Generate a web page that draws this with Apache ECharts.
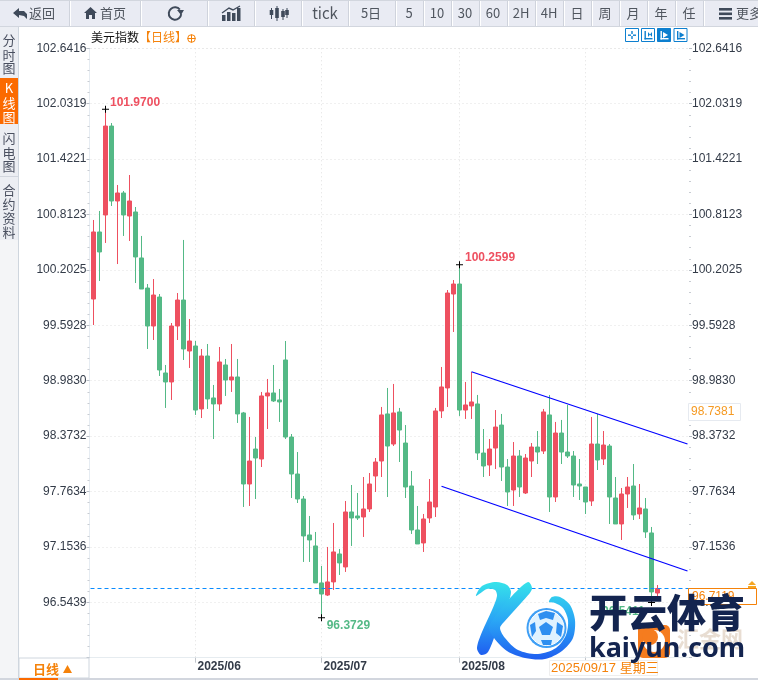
<!DOCTYPE html>
<html><head><meta charset="utf-8"><style>html,body{margin:0;padding:0;background:#fff}#c{width:758px;height:680px}</style>
<script src="https://cdn.jsdelivr.net/npm/echarts@6/dist/echarts.min.js"></script></head>
<body><div id="c"></div><script>
const dates=['2025/05/08','2025/05/09','2025/05/12','2025/05/13','2025/05/14','2025/05/15','2025/05/16','2025/05/19','2025/05/20','2025/05/21','2025/05/22','2025/05/23','2025/05/26','2025/05/27','2025/05/28','2025/05/29','2025/05/30',
'2025/06/02','2025/06/03','2025/06/04','2025/06/05','2025/06/06','2025/06/09','2025/06/10','2025/06/11','2025/06/12','2025/06/13','2025/06/16','2025/06/17','2025/06/18','2025/06/19','2025/06/20','2025/06/23','2025/06/24','2025/06/25','2025/06/26','2025/06/27','2025/06/30',
'2025/07/01','2025/07/02','2025/07/03','2025/07/04','2025/07/07','2025/07/08','2025/07/09','2025/07/10','2025/07/11','2025/07/14','2025/07/15','2025/07/16','2025/07/17','2025/07/18','2025/07/21','2025/07/22','2025/07/23','2025/07/24','2025/07/25','2025/07/28','2025/07/29','2025/07/30','2025/07/31',
'2025/08/01','2025/08/04','2025/08/05','2025/08/06','2025/08/07','2025/08/08','2025/08/11','2025/08/12','2025/08/13','2025/08/14','2025/08/15','2025/08/18','2025/08/19','2025/08/20','2025/08/21','2025/08/22','2025/08/25','2025/08/26','2025/08/27','2025/08/28','2025/08/29',
'2025/09/01','2025/09/02','2025/09/03','2025/09/04','2025/09/05','2025/09/08','2025/09/09','2025/09/10','2025/09/11','2025/09/12','2025/09/15','2025/09/16','2025/09/17'];
const blankSlots=['','','','',''];
const opens=[99.882,100.620,100.807,101.786,100.961,101.049,100.796,100.840,100.334,100.003,
99.585,99.904,99.068,98.969,99.585,99.871,99.310,99.365,98.672,99.255,
98.793,98.727,99.156,98.991,99.024,98.628,97.846,98.231,98.121,98.815,
98.848,98.771,99.211,98.363,97.956,97.681,97.285,97.164,96.757,96.624,
96.768,97.076,96.933,97.538,97.494,97.483,97.571,97.934,98.099,98.617,
98.286,98.639,98.297,97.824,97.340,97.197,97.472,97.593,98.650,98.903,
99.937,100.047,98.660,98.705,98.727,98.187,98.055,98.242,98.495,98.033,
97.780,98.154,97.747,98.099,98.253,98.209,98.606,97.703,98.407,98.198,
98.154,97.846,97.813,97.659,98.286,98.121,98.264,97.692,97.406,97.736,
97.824,97.516,97.571,97.307,96.646];
const closes=[100.620,100.400,101.786,100.961,101.049,100.807,100.961,100.345,99.992,99.585,
99.926,99.101,98.969,99.585,99.871,99.332,99.420,98.660,99.255,98.782,
98.727,99.189,98.991,99.024,98.617,97.846,98.099,98.132,98.815,98.848,
98.760,98.749,98.363,97.956,97.681,97.274,97.230,96.757,96.635,96.768,
97.098,96.977,97.538,97.472,97.472,97.571,97.846,98.088,98.606,98.264,
98.628,98.440,97.813,97.340,97.186,97.461,97.648,98.650,98.914,99.948,
100.047,98.660,98.716,98.749,98.187,98.044,98.231,98.473,98.033,97.758,
98.154,97.813,98.132,98.253,98.198,98.639,97.703,98.407,98.198,98.154,
97.835,97.824,97.648,98.286,98.110,98.275,97.703,97.406,97.736,97.813,
97.505,97.582,97.318,96.658,96.696];
const lows=[99.596,100.080,100.499,100.906,100.267,100.576,100.521,100.058,99.992,99.332,
99.431,99.035,98.683,98.771,99.431,99.211,99.123,98.606,98.572,98.672,
98.341,98.650,98.815,98.859,98.518,97.593,97.604,97.681,98.033,98.451,
98.749,98.529,98.341,97.692,97.637,96.988,96.988,96.757,96.3729,96.613,
96.680,96.845,96.878,97.164,97.450,97.263,97.538,97.758,97.923,97.703,
98.264,98.088,97.692,97.296,97.186,97.098,97.417,97.483,98.572,98.694,
99.519,98.595,98.562,98.562,98.110,97.923,97.934,98.011,97.879,97.604,
97.604,97.703,97.736,97.923,98.066,98.176,97.538,97.648,98.066,98.132,
97.703,97.670,97.516,97.604,98.000,98.055,97.406,97.406,97.230,97.582,
97.450,97.461,97.252,96.5411,96.569];
const highs=[100.752,100.851,101.97,101.819,101.137,101.071,101.247,100.895,100.576,100.047,
100.102,99.937,99.156,99.618,99.948,100.532,99.662,99.420,99.332,99.387,
98.936,99.354,99.222,99.387,99.222,98.639,98.584,98.363,98.859,99.002,
99.156,98.892,99.420,98.396,98.198,97.714,97.494,97.318,96.944,97.153,
97.417,97.131,97.659,97.835,97.747,97.923,97.967,98.132,98.694,98.903,
98.947,98.683,98.495,97.989,97.604,97.516,97.901,98.683,99.134,99.981,
100.091,100.2599,98.969,99.079,98.826,98.451,98.341,98.660,98.617,98.121,
98.308,98.220,98.176,98.297,98.429,98.672,98.826,98.529,98.551,98.716,
98.209,98.121,97.813,98.584,98.617,98.429,98.286,97.923,97.802,97.923,
98.066,97.846,97.692,97.373,96.734];
const priceTicks=['96.5439','97.1536','97.7634','98.3732','98.9830','99.5928','100.2025','100.8123','101.4221','102.0319','102.6416'];
const axisMin=95.9341, axisMax=102.6416, axisStep=0.60977;
const monthStarts=['2025/06/02','2025/07/01','2025/08/01','2025/09/01'];
const upperChannel=[[63,99.082],[99,98.286]];
const lowerChannel=[[58,97.821],[99,96.889]];
const lastPrice=96.696;
const toolbarButtons=[[0,69,'返回',42],[71,69,'首页',113],[142,65,'',0],[209,45,'',0],[256,45,'',0],[303,45,'tick',325],[350,45,'5日',371],[397,26,'5',409],[425,26,'10',437],[453,26,'30',465],[481,26,'60',493],[509,26,'2H',521],[537,26,'4H',549],[565,26,'日',577],[593,26,'周',605],[621,26,'月',633],[649,26,'年',661],[677,26,'任',689],[705,53,'更多',749]];

const RED='#ee5060',GREEN='#54b986',ORANGE='#f5820a',DARK='#3f4a5a';
const CJK='"Noto Sans CJK SC","Noto Sans",sans-serif',LAT='"Liberation Sans",Arial,sans-serif';
const cats=dates.concat(blankSlots);
const candles=dates.map((d,i)=>[opens[i],closes[i],lows[i],highs[i]]);
const g=[];let Z=100;
const rect=(x,y,w,h,fill,stroke,r)=>g.push({type:'rect',z:Z,silent:true,shape:{x,y,width:w,height:h,r:r||0},style:{fill:fill||'transparent',stroke:stroke||null,lineWidth:1}});
const text=(x,y,t,font,fill,align)=>g.push({type:'text',z:Z,silent:true,style:{x,y,text:t,font,fill,align:align||'center',verticalAlign:'middle'}});
const poly=(pts,fill,smooth)=>g.push({type:'polygon',z:Z,silent:true,shape:{points:pts,smooth:smooth||0},style:{fill}});
const line=(pts,stroke,w)=>g.push({type:'polyline',z:Z,silent:true,shape:{points:pts},style:{stroke,lineWidth:w||1,fill:null}});
const circle=(cx,cy,r,fill,stroke,w)=>g.push({type:'circle',z:Z,silent:true,shape:{cx,cy,r},style:{fill:fill||'transparent',stroke:stroke||null,lineWidth:w||1}});

// toolbar
rect(0,0,758,27,'#ffffff');
toolbarButtons.forEach(b=>{rect(b[0],0,b[1],26,'#e9ebf3');rect(b[0]+b[1],0,1,26,'#cfd3dc');
 if(b[2])text(b[3],13.5,b[2],(b[2]==='tick'?'15px ':'13px ')+CJK,'#50565f');});
rect(0,26,758,1,'#d2d6de');rect(0,0,758,1,'#d2d6de');
poly([[13,13],[19,8],[19,11],[24,11],[27,14],[27,19],[24,16],[19,15],[19,18]],DARK);
poly([[90.5,7],[97,13],[95,13],[95,19],[92,19],[92,15],[89,15],[89,19],[86,19],[86,13],[84,13]],DARK);
g.push({type:'arc',z:Z,silent:true,shape:{cx:175,cy:13.5,r:6.2,startAngle:0.1,endAngle:5.6,clockwise:true},style:{stroke:DARK,lineWidth:2,fill:null}});
poly([[177,10],[184,10],[181,15]],DARK);
[[222,15],[227,12],[232,13],[237,8]].forEach(a=>rect(a[0],a[1],3.5,21-a[1],DARK));
line([[222,13],[229,8],[233,10],[240,6]],DARK,1.4);
[[271.5,8,19,10,15],[277,6,21,8,18],[283,9,20,11,17],[287,8,18,10,15]].forEach(a=>{rect(a[0]-.5,a[1],1,a[2]-a[1],DARK);rect(a[0]-1.8,a[3],3.6,a[4]-a[3],DARK);});
[8,12.5,17].forEach(y=>rect(719,y,13,2.6,DARK));

// side column
rect(0,27,18,653,'#f4f5f7');rect(0,27,18,213,'#eceef3');rect(18,27,1,653,'#cfd6de');
rect(0,78,18,46,'#fb6a00');rect(0,176,18,1,'#d2d6de');
[[40,'分'],[55,'时'],[68,'图'],[138,'闪'],[153,'电'],[166,'图'],[190,'合'],[204,'约'],[218,'资'],[232,'料']].forEach(c=>text(9,c[0],c[1],'13px '+CJK,'#4a5060'));
[[88,'K'],[103,'线'],[117,'图']].forEach(c=>text(9,c[0],c[1],'13px '+CJK,'#ffffff'));

// title row
text(91,37,'美元指数','12px '+CJK,'#111111','left');
text(139,37,'【日线】','12px '+CJK,ORANGE,'left');
circle(191.5,38.5,3.8,null,ORANGE,1);line([[187.5,38.5],[195.5,38.5]],ORANGE,1);line([[191.5,34.5],[191.5,42.5]],ORANGE,1);

// view buttons
const BLUE='#0d7fcf';
[625,641,657,673.5].forEach((x,k)=>{rect(x+.5,28.5,13,13,k===2?BLUE:'#ffffff',BLUE);
 const c=k===2?'#ffffff':BLUE;
 if(k===0){rect(x+3,34.5,3,1.4,c);rect(x+8,34.5,3,1.4,c);rect(x+6.3,31,1.4,3,c);rect(x+6.3,36,1.4,3,c);}
 else{rect(x+3.5,31,1.4,8.5,c);rect(x+3.5,38,8,1.4,c);poly(k===3?[[x+6,32],[x+6,38],[x+11,35]]:(k===2?[[x+6,32],[x+6,38],[x+11,35]]:[[x+7,32],[x+7,37],[x+11,32],[x+11,37]]),c);}
});

// right price boxes
rect(688.5,403.5,52,17,'#ffffff','#e6eaf0');
text(691,411.5,'98.7381','12px '+LAT,'#f59a23','left');
rect(688.5,588.5,68,16,'#ffffff',ORANGE);
text(692,597,'96.7119','12px '+LAT,ORANGE,'left');
poly([[752,581],[756,585],[748,585]],'#f5a623');rect(748,586,8,2,'#f5a623');

// bottom bar
rect(19,658,70,20,'#ffffff','#cfd6de');
text(33,669,'日线','bold 13px '+CJK,ORANGE,'left');
poly([[67.5,665],[72,673],[63,673]],ORANGE);
rect(0,678,758,2,'#d2d6de');rect(19,678,39,2,'#fb6a00');
rect(549.5,660.5,108,15,'#ffffff','#eeeeee');
text(551,668,'2025/09/17 星期三','13px '+LAT+','+CJK,ORANGE,'left');

// watermark
Z=110;
text(677,639,'汇金网','bold 22px '+CJK,'#e8ddd2','left');
rect(638,625,32,33,'#f57c1f',null,5);circle(654,641,11,'#ffffff');circle(650,637,8,'#f57c1f');
const logoFill=new echarts.graphic.LinearGradient(0,0,0,1,[{offset:0,color:'#36e3ea'},{offset:.5,color:'#2aa6f5'},{offset:1,color:'#1f5ef0'}]);
poly([[476,596],[482,586],[496,582],[507,585],[511,592],[507,606],[497,630],[488,652],[481,655],[477,648],[482,632],[492,610],[497,596],[495,590],[487,589]],logoFill,.3);
poly([[528,582],[532,589],[522,602],[504,622],[500,628],[505,638],[518,650],[538,654],[556,648],[566,635],[568,620],[563,608],[555,603],[549,602],[552,597],[560,597],[570,605],[575,620],[573,638],[562,651],[545,659],[525,658],[507,651],[494,638],[489,628],[494,618],[510,598]],logoFill,.3);
circle(546.5,628,20,'#3f9ff5');circle(546.5,628,17.5,'#dff2ff','#ffffff',1);
poly([[546,622],[553,627],[550,635],[542,635],[539,627]],'#2f8ff0');
poly([[546,611],[555,613],[553,620],[546,618],[540,620],[538,614]],'#2f8ff0');
poly([[530,625],[535,622],[536,631],[532,637]],'#2f8ff0');poly([[557,622],[563,626],[561,637],[556,633]],'#2f8ff0');poly([[541,640],[552,640],[551,645],[543,645]],'#2f8ff0');
text(667,612,'开云体育','900 39px '+CJK,'#13244f');
text(667,649,'kaiyun.com','bold 27px "Noto Sans",sans-serif','#13244f');

const baseY={type:'value',min:axisMin,max:axisMax,interval:axisStep,scale:true,
 axisLine:{show:true,onZero:false,lineStyle:{color:'#e6ecf2'}},
 axisTick:{show:true,length:3,lineStyle:{color:'#b8bec6'}},
 minorTick:{show:true,splitNumber:5,length:2,lineStyle:{color:'#c8ccd2'}},
 splitLine:{show:true,lineStyle:{type:[1,3],color:'#e0e0e0'}},
 axisLabel:{color:'#333b48',fontSize:12,fontFamily:'Liberation Sans',
  formatter:(v)=>{const k=Math.round((v-axisMin)/axisStep)-1;return priceTicks[k]||'';}}};
const chart=echarts.init(document.getElementById('c'),null,{renderer:'canvas'});
const labelStyle=(color,pos)=>({show:true,position:pos,color,fontWeight:'bold',fontSize:12,fontFamily:'Liberation Sans',align:'left',verticalAlign:'middle'});
chart.setOption({
 animation:false,
 grid:{left:90.5,width:600,top:48.3,height:609.4,containLabel:false},
 xAxis:{type:'category',data:cats,boundaryGap:true,
  axisLine:{show:true,lineStyle:{color:'#e6ecf0'}},
  axisTick:{show:true,alignWithLabel:true,length:5,lineStyle:{color:'#c0c4ca'},interval:(i,v)=>monthStarts.includes(v)},
  axisLabel:{show:true,interval:(i,v)=>monthStarts.includes(v),color:'#333b48',fontWeight:'bold',fontSize:12,fontFamily:'Liberation Sans',align:'left',margin:3,padding:[0,0,0,2],hideOverlap:false,formatter:(v)=>v.slice(0,7)},
  splitLine:{show:true,alignWithLabel:true,interval:(i,v)=>monthStarts.includes(v),lineStyle:{type:[1,3],color:'#e0e0e0'}}},
 yAxis:[Object.assign({},baseY,{position:'left',offset:1,axisLabel:Object.assign({},baseY.axisLabel,{margin:3})}),
  Object.assign({},baseY,{position:'right',offset:-1.5,splitLine:{show:false},axisLine:{show:false},axisLabel:Object.assign({},baseY.axisLabel,{margin:3})})],
 series:[
 {type:'candlestick',data:candles,barWidth:4,clip:false,silent:true,
  itemStyle:{color:RED,color0:GREEN,borderColor:RED,borderColor0:GREEN,borderWidth:1},
  markLine:{silent:true,symbol:'none',label:{show:false},animation:false,lineStyle:{color:'#0a8cff',type:[4,3],width:1},data:[{yAxis:lastPrice}]},
  markPoint:{silent:true,symbol:'path://M0 3H7V4H0ZM3 0H4V7H3Z',symbolSize:7,animation:false,itemStyle:{color:'#000'},
   data:[
    {coord:[2,101.97],label:Object.assign(labelStyle(RED,[8,-3.5]),{formatter:'101.9700'})},
    {coord:[61,100.2599],label:Object.assign(labelStyle(RED,[9,-3.8]),{formatter:'100.2599'})},
    {coord:[38,96.3729],label:Object.assign(labelStyle(GREEN,[8.7,11]),{formatter:'96.3729'})},
    {coord:[93,96.5411],label:Object.assign(labelStyle(GREEN,[-46,12.5]),{formatter:'96.5411'})}]}},
 {type:'line',data:upperChannel,symbol:'none',silent:true,lineStyle:{color:'#0000ff',width:1.2},z:5},
 {type:'line',data:lowerChannel,symbol:'none',silent:true,lineStyle:{color:'#0000ff',width:1.2},z:5}
 ],
 graphic:{elements:g}
});
</script></body></html>
